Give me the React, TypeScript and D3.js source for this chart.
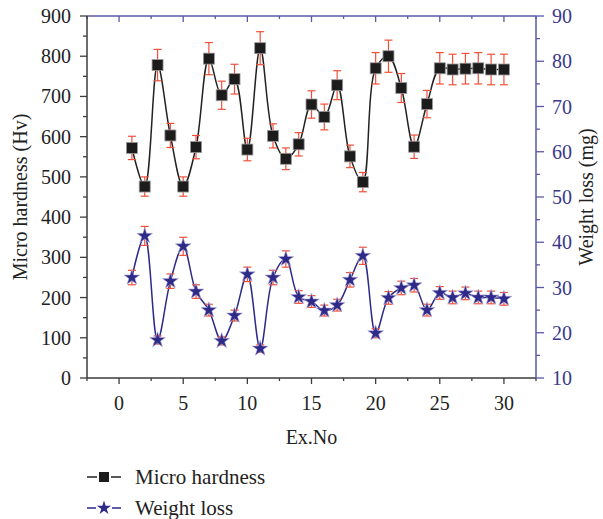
import React from "react";
import * as d3 from "d3";

const exNo = [1,2,3,4,5,6,7,8,9,10,11,12,13,14,15,16,17,18,19,20,21,22,23,24,25,26,27,28,29,30];
const hardness = [572,476,778,603,476,574,794,703,743,568,820,602,545,581,680,649,728,551,487,770,800,721,575,681,770,767,769,770,767,767];
const hardnessErr = [29,24,39,30,24,29,40,35,37,28,41,30,27,29,34,32,36,28,24,39,40,36,29,34,39,38,38,39,38,38];
const weightLoss = [32.2,41.4,18.4,31.4,39.1,29.1,25.0,18.2,23.8,32.9,16.5,32.2,36.3,27.9,26.9,24.9,26.1,31.7,37.0,19.9,27.7,29.9,30.5,25.0,28.8,27.8,28.7,27.8,27.8,27.5];
const weightLossErr = [1.6,2.1,0.9,1.6,2.0,1.5,1.3,0.9,1.2,1.6,0.8,1.6,1.8,1.4,1.3,1.2,1.3,1.6,1.9,1.0,1.4,1.5,1.5,1.3,1.4,1.4,1.4,1.4,1.4,1.4];
const xTicks = [0,5,10,15,20,25,30];
const leftTicks = [0,100,200,300,400,500,600,700,800,900];
const rightTicks = [10,20,30,40,50,60,70,80,90];
const seriesNames = ["Micro hardness", "Weight loss"];

const W = 603, H = 519;
const L = 87, R = 536, T = 16, B = 378;
const FONT = "'Liberation Serif', 'DejaVu Serif', serif";
const GRAY = "#3d3d3d";
const AXBLUE = "#5a58a8";
const TXTBLUE = "#3a388c";
const RED = "#f0503a";
const STARC = "#2e2a88";

export default function App() {
  const x = d3.scaleLinear().domain([-2.5, 32.5]).range([L, R]);
  const yL = d3.scaleLinear().domain([0, 900]).range([B, T]);
  const yR = d3.scaleLinear().domain([10, 90]).range([B, T]);
  const curve = d3.curveCatmullRom.alpha(0.5);
  const lineH = d3.line<number>().x((_, i) => x(exNo[i])).y(d => yL(d)).curve(curve);
  const lineW = d3.line<number>().x((_, i) => x(exNo[i])).y(d => yR(d)).curve(curve);
  const star = d3.symbol().type(d3.symbolStar).size(78)() as string;
  const starSmall = d3.symbol().type(d3.symbolStar).size(62)() as string;
  const xMinor = d3.range(-2.5, 32.6, 2.5);
  const leftMinor = d3.range(0, 901, 50);
  const rightMinor = d3.range(10, 91, 5);

  const errBars = (vals: number[], errs: number[], y: d3.ScaleLinear<number, number>, key: string) =>
    vals.map((v, i) => {
      const cx = x(exNo[i]);
      const y1 = y(v + errs[i]), y2 = y(v - errs[i]);
      return (
        <g key={key + i} stroke={RED} strokeWidth={1.2}>
          <line x1={cx} x2={cx} y1={y1} y2={y2} />
          <line x1={cx - 4} x2={cx + 4} y1={y1} y2={y1} />
          <line x1={cx - 4} x2={cx + 4} y1={y2} y2={y2} />
        </g>
      );
    });

  return (
    <svg width={W} height={H} style={{ position: "absolute", left: 0, top: 0, background: "#fff" }} fontFamily={FONT}>
      {/* top axis */}
      <line x1={L} x2={R} y1={T} y2={T} stroke={AXBLUE} strokeWidth={1.5} />
      {xMinor.map((t, i) => (
        <line key={"tt" + i} x1={x(t)} x2={x(t)} y1={T} y2={T + (Math.abs(t % 5) < 1e-6 ? 6 : 3)} stroke={AXBLUE} strokeWidth={1.3} />
      ))}
      {/* bottom axis */}
      <line x1={L} x2={R} y1={B} y2={B} stroke={GRAY} strokeWidth={1.5} />
      {xMinor.map((t, i) => (
        <line key={"bt" + i} x1={x(t)} x2={x(t)} y1={B} y2={B + (Math.abs(t % 5) < 1e-6 ? 6 : 3)} stroke={GRAY} strokeWidth={1.3} />
      ))}
      {xTicks.map(t => (
        <text key={"bx" + t} x={x(t)} y={410} textAnchor="middle" fontSize={20} fill="#222">{t}</text>
      ))}
      <text x={(L + R) / 2} y={444} textAnchor="middle" fontSize={20} fill="#222">Ex.No</text>
      {/* left axis */}
      <line x1={L} x2={L} y1={T} y2={B} stroke={GRAY} strokeWidth={1.5} />
      {leftMinor.map(t => (
        <line key={"lt" + t} x1={L - (t % 100 === 0 ? 7 : 4)} x2={L} y1={yL(t)} y2={yL(t)} stroke={GRAY} strokeWidth={1.3} />
      ))}
      {leftTicks.map(t => (
        <text key={"ly" + t} x={71} y={yL(t)} dy="0.35em" textAnchor="end" fontSize={20} fill="#222">{t}</text>
      ))}
      <text transform={`translate(27,${(T + B) / 2}) rotate(-90)`} textAnchor="middle" fontSize={20} fill="#222">Micro hardness (Hv)</text>
      {/* right axis */}
      <line x1={R} x2={R} y1={T} y2={B} stroke={AXBLUE} strokeWidth={1.5} />
      {rightMinor.map(t => (
        <line key={"rt" + t} x1={R} x2={R + (t % 10 === 0 ? 8 : 4)} y1={yR(t)} y2={yR(t)} stroke={AXBLUE} strokeWidth={1.3} />
      ))}
      {rightTicks.map(t => (
        <text key={"ry" + t} x={552} y={yR(t)} dy="0.35em" textAnchor="start" fontSize={20} fill={TXTBLUE}>{t}</text>
      ))}
      <text transform={`translate(593,${(T + B) / 2}) rotate(-90)`} textAnchor="middle" fontSize={20} fill="#222">Weight loss (mg)</text>

      {/* hardness series */}
      <path d={lineH(hardness) || ""} fill="none" stroke="#222" strokeWidth={1.5} />
      {errBars(hardness, hardnessErr, yL, "eh")}
      {hardness.map((v, i) => (
        <rect key={"sq" + i} x={x(exNo[i]) - 5.5} y={yL(v) - 5.5} width={11} height={11} fill="#1c1c1c" stroke="#9a9a9a" strokeWidth={0.8} />
      ))}
      {/* weight loss series */}
      <path d={lineW(weightLoss) || ""} fill="none" stroke={STARC} strokeWidth={1.5} />
      {errBars(weightLoss, weightLossErr, yR, "ew")}
      {weightLoss.map((v, i) => (
        <path key={"st" + i} d={star} transform={`translate(${x(exNo[i])},${yR(v)})`} fill={STARC} stroke="#b8b6e0" strokeWidth={0.6} />
      ))}

      {/* legend */}
      <g>
        <line x1={87} x2={97} y1={477} y2={477} stroke="#222" strokeWidth={1.5} />
        <line x1={111} x2={121} y1={477} y2={477} stroke="#222" strokeWidth={1.5} />
        <rect x={99} y={472} width={10} height={10} fill="#1c1c1c" />
        <text x={135} y={484} fontSize={21} fill="#222">{seriesNames[0]}</text>
        <line x1={87} x2={96} y1={508} y2={508} stroke={STARC} strokeWidth={1.5} />
        <line x1={112} x2={121} y1={508} y2={508} stroke={STARC} strokeWidth={1.5} />
        <path d={starSmall} transform="translate(104,508)" fill={STARC} />
        <text x={135} y={515} fontSize={21} fill="#222">{seriesNames[1]}</text>
      </g>
    </svg>
  );
}
